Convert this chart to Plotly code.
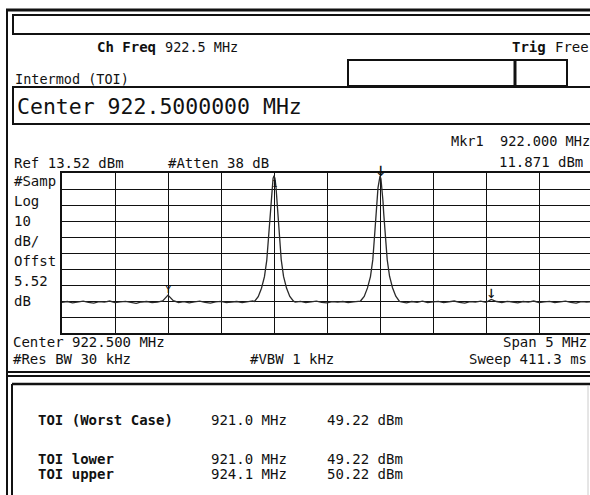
import plotly.graph_objects as go

# ---------------- data ----------------
ref_level = 13.52          # dBm (top of graticule)
db_per_div = 10
center_mhz = 922.5
span_mhz = 5.0

trace_freq = [
    920.00, 920.05, 920.10, 920.15, 920.20, 920.25, 920.30, 920.35, 920.40, 920.45,
    920.50, 920.55, 920.60, 920.65, 920.70, 920.75, 920.80, 920.85, 920.90, 920.95,
    921.00, 921.05, 921.10, 921.15, 921.20, 921.25, 921.30, 921.35, 921.40, 921.45,
    921.50, 921.55, 921.60, 921.65, 921.70, 921.75, 921.80,
    921.816, 921.851, 921.882, 921.910, 921.932, 921.948, 921.958, 921.965, 921.972,
    921.981, 921.991, 922.000, 922.009, 922.019, 922.028, 922.035, 922.043, 922.052,
    922.068, 922.090, 922.118, 922.149, 922.184,
    922.20, 922.25, 922.30, 922.35, 922.40, 922.45, 922.50, 922.55, 922.60, 922.65,
    922.70, 922.75, 922.80,
    922.816, 922.851, 922.882, 922.910, 922.932, 922.948, 922.958, 922.965, 922.972,
    922.981, 922.991, 923.000, 923.009, 923.019, 923.028, 923.035, 923.043, 923.052,
    923.068, 923.090, 923.118, 923.149, 923.184,
    923.20, 923.25, 923.30, 923.35, 923.40, 923.45, 923.50, 923.55, 923.60, 923.65,
    923.70, 923.75, 923.80, 923.85, 923.90, 923.95, 924.00, 924.05, 924.10, 924.15,
    924.20, 924.25, 924.30, 924.35, 924.40, 924.45, 924.50, 924.55, 924.60, 924.65,
    924.70, 924.75, 924.80, 924.85, 924.90, 924.95, 925.00,
]
trace_dbm = [
    -67.4, -66.8, -67.6, -67.0, -66.6, -67.3, -67.8, -66.9, -67.2, -66.5,
    -67.5, -67.0, -66.7, -67.4, -67.9, -67.1, -66.8, -67.5, -67.2, -66.4,
    -62.8, -66.3, -67.4, -66.9, -67.6, -67.0, -66.6, -67.3, -67.8, -67.0,
    -66.7, -67.4, -67.1, -66.8, -67.5, -67.0, -66.4,
    -66.8, -63.8, -58.5, -51.3, -40.9, -26.3, -19.0, -11.7, -4.0,
    4.5, 10.0, 11.871, 10.1, 4.6, -3.8, -11.5, -18.8, -26.1,
    -40.6, -51.1, -58.4, -63.6, -66.6,
    -67.2, -66.7, -67.5, -67.0, -66.6, -67.3, -67.7, -66.9, -67.2, -66.8,
    -67.5, -67.0, -66.5,
    -66.5, -63.6, -58.3, -51.2, -40.8, -26.4, -19.2, -11.9, -4.2,
    4.2, 9.8, 11.62, 9.9, 4.4, -4.0, -11.6, -19.0, -26.2,
    -40.7, -51.0, -58.2, -63.5, -66.7,
    -67.0, -67.6, -66.8, -67.3, -66.6, -67.4, -67.0, -66.7, -67.5, -67.1,
    -66.5, -67.3, -67.8, -66.9, -67.2, -66.6, -67.3, -65.5, -66.8, -67.4,
    -66.7, -67.1, -67.6, -66.8, -67.2, -66.5, -67.4, -67.0, -66.7, -67.5,
    -67.0, -66.6, -67.3, -67.8, -66.9, -67.2, -67.0,
]

# markers: active marker 1, tone 2, intermod products
mkr1_freq = 922.0
mkr1_level = 11.871
tone2_freq = 923.0
tone2_level = 11.62
imd_freqs = [921.0, 924.05]
imd_levels = [-62.8, -65.5]

# TOI result table
toi_labels = ["TOI (Worst Case)", "TOI lower", "TOI upper"]
toi_freqs = ["921.0 MHz", "921.0 MHz", "924.1 MHz"]
toi_values = ["49.22 dBm", "49.22 dBm", "50.22 dBm"]

left_labels = ["#Samp", "Log", "10", "dB/", "Offst", "5.52", "dB"]

# ---------------- geometry helpers (screen pixels -> paper) ----------------
W, H = 590, 495
L, T, B = 62, 173, 333          # plot area left/top/bottom in px
R = W
PW, PH = R - L, B - T


def px(x):
    return (x - L) / PW


def py(y):
    return (B - y) / PH


MONO = "DejaVu Sans Mono"
INK = "#111111"

fig = go.Figure()

fig.add_trace(go.Scatter(
    x=trace_freq, y=trace_dbm, mode="lines",
    line=dict(color="#2a2a2a", width=1.3), hoverinfo="skip", showlegend=False,
))

# marker 1: open diamond above the peak + label "1"
fig.add_trace(go.Scatter(
    x=[mkr1_freq], y=[mkr1_level + 3.9], mode="markers",
    marker=dict(symbol="diamond-open", size=8, color=INK, line=dict(width=1.5, color=INK)),
    cliponaxis=False, hoverinfo="skip", showlegend=False,
))

annotations = []
annotations.append(dict(x=mkr1_freq, y=mkr1_level, xref="x", yref="y", text="1",
                        showarrow=False, yshift=-8, font=dict(family=MONO, size=9, color=INK)))
annotations.append(dict(x=tone2_freq, y=tone2_level, xref="x", yref="y", text="↓",
                        showarrow=False, yanchor="bottom", yshift=-6,
                        font=dict(family=MONO, size=19, color=INK)))
annotations.append(dict(x=imd_freqs[0], y=imd_levels[0], xref="x", yref="y", text="Y",
                        showarrow=False, yanchor="bottom", yshift=-3,
                        font=dict(family=MONO, size=11, color=INK)))
annotations.append(dict(x=imd_freqs[1], y=imd_levels[1], xref="x", yref="y", text="↓",
                        showarrow=False, yanchor="bottom", yshift=-5,
                        font=dict(family=MONO, size=17, color=INK)))


def txt(x, y, s, size=14, bold=False, anchor="left"):
    t = f"<b>{s}</b>" if bold else s
    annotations.append(dict(x=px(x), y=py(y), xref="paper", yref="paper", text=t,
                            showarrow=False, xanchor=anchor, yanchor="middle",
                            font=dict(family=MONO, size=size, color=INK)))


# header
txt(95, 47, "Ch Freq", 14, bold=True)
txt(163, 47, "922.5 MHz", 13.5)
txt(510, 47, "Trig", 14, bold=True)
txt(553, 47, "Free", 14)
txt(13, 79, "Intermod (TOI)", 13.5)
txt(15, 106, f"Center {center_mhz:.7f} MHz", 21.5)

# marker readout / reference line
txt(449, 141, f"Mkr1  {mkr1_freq:.3f} MHz", 13.6)
txt(497, 162, f"{mkr1_level:.3f} dBm", 14)
txt(12, 163, f"Ref {ref_level:.2f} dBm", 14)
txt(166, 163, "#Atten 38 dB", 14)

for i, lab in enumerate(left_labels):
    txt(12, 181 + i * 20, lab, 14)

# footer lines
txt(11, 342, f"Center {center_mhz:.3f} MHz", 14)
txt(589, 342, f"Span {span_mhz:g} MHz", 14, anchor="right")
txt(11, 359, "#Res BW 30 kHz", 14)
txt(248, 359, "#VBW 1 kHz", 14)
txt(589, 359, "Sweep 411.3 ms", 14, anchor="right")

# TOI table
for lab, f, v, y in zip(toi_labels, toi_freqs, toi_values, [420, 459, 474]):
    txt(36, y, lab, 14, bold=True)
    txt(209, y, f, 14)
    txt(325, y, v, 14)

# frame decorations
shapes = []


def hline(x0, x1, y, w=2, c=INK):
    shapes.append(dict(type="line", xref="paper", yref="paper", x0=px(x0), x1=px(x1),
                       y0=py(y), y1=py(y), line=dict(color=c, width=w)))


def vline(x, y0, y1, w=2, c=INK):
    shapes.append(dict(type="line", xref="paper", yref="paper", x0=px(x), x1=px(x),
                       y0=py(y0), y1=py(y1), line=dict(color=c, width=w)))


def rect(x0, y0, x1, y1, w=2, c=INK):
    shapes.append(dict(type="rect", xref="paper", yref="paper", x0=px(x0), x1=px(x1),
                       y0=py(y0), y1=py(y1), line=dict(color=c, width=w)))


hline(6, 600, 10, 3)
vline(7, 10, 500, 2)
rect(13, 15, 600, 34, 2)
rect(348, 60, 515, 86, 2)
rect(515, 60, 567, 86, 2)
vline(515, 60, 86, 3)
rect(13, 87, 600, 124, 2)
hline(7, 600, 372, 2)
hline(7, 600, 376, 2)
hline(12, 600, 384, 2.5)
vline(12, 384, 500, 2)
vline(588, 386, 500, 1, "#cccccc")

x_end = center_mhz - span_mhz / 2 + span_mhz * PW / 530.0

fig.update_layout(
    width=W, height=H, autosize=False,
    margin=dict(l=L, r=0, t=T, b=H - B, pad=0),
    paper_bgcolor="white", plot_bgcolor="white",
    showlegend=False,
    annotations=annotations,
    shapes=shapes,
    xaxis=dict(range=[center_mhz - span_mhz / 2, x_end], tick0=920.0, dtick=0.5,
               showgrid=True, gridcolor=INK, gridwidth=1, zeroline=False,
               showticklabels=False, ticks="", showline=True, mirror=True,
               linecolor=INK, linewidth=2, fixedrange=True),
    yaxis=dict(range=[ref_level - 10 * db_per_div, ref_level], tick0=ref_level, dtick=db_per_div,
               showgrid=True, gridcolor=INK, gridwidth=1, zeroline=False,
               showticklabels=False, ticks="", showline=True, mirror=False,
               linecolor=INK, linewidth=2, fixedrange=True),
)

fig.write_html(
    "out.html",
    config={"displayModeBar": False},
    post_script="document.body.style.margin='0';document.body.style.overflow='hidden';",
)
